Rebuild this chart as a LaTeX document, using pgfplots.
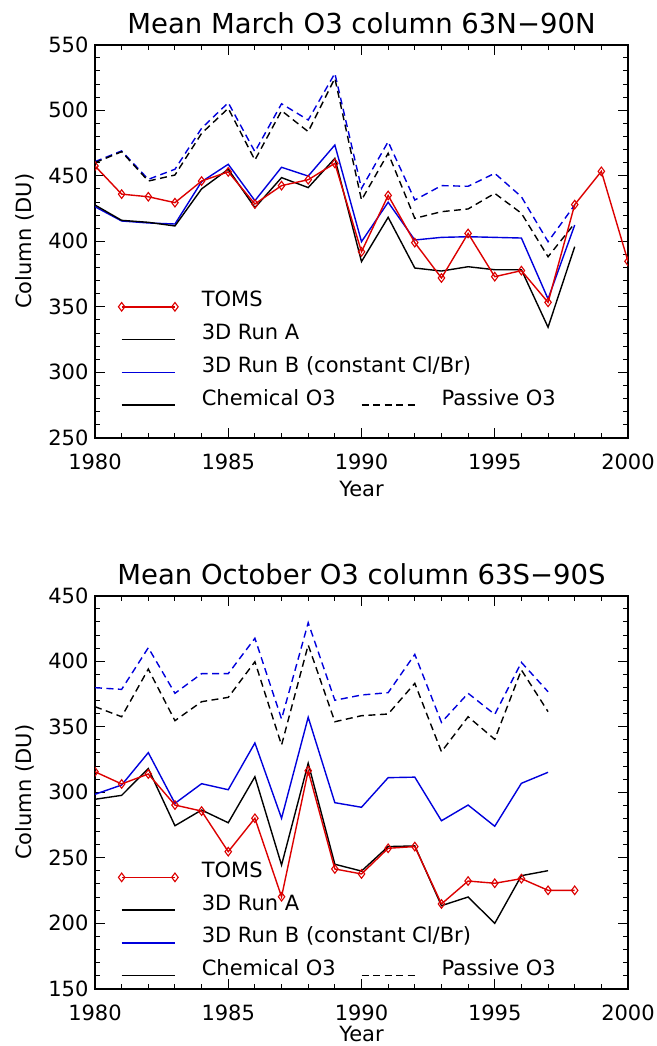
\documentclass[border=0pt]{standalone}
\usepackage{fontspec}
\setmainfont{DejaVu Sans}
\usepackage{pgfplots}
\usepackage{pgfplotstable}
\pgfplotsset{compat=1.18}
\definecolor{tred}{RGB}{220,0,0}
\definecolor{tblue}{RGB}{0,0,220}

\pgfplotstableread{
year toms runA runB passA passB
1980 457.5 427.7 426.4 460.0 460.8
1981 436.0 416.0 415.5 468.4 469.0
1982 434.0 414.5 414.0 446.0 447.3
1983 429.5 411.7 413.2 450.6 455.0
1984 446.0 440.0 445.5 482.4 486.3
1985 453.0 455.0 458.8 501.5 505.8
1986 428.5 425.7 431.0 462.0 468.4
1987 442.5 448.6 456.5 499.7 505.0
1988 447.0 441.0 449.8 483.7 492.6
1989 459.5 463.3 473.5 524.4 528.2
1990 392.0 384.5 399.7 431.5 440.4
1991 435.0 418.3 429.8 467.2 476.0
1992 399.0 379.6 401.0 417.5 431.5
1993 372.0 377.3 403.0 422.6 442.5
1994 406.0 380.6 403.5 424.7 442.0
1995 373.0 378.3 403.0 436.6 451.9
1996 377.6 378.3 402.5 421.4 434.0
1997 353.4 334.4 356.0 388.2 399.7
1998 428.0 395.9 412.4 413.7 427.7
1999 453.4 nan nan nan nan
2000 384.7 nan nan nan nan
}\topdata

\pgfplotstableread{
year toms runA runB passA passB
1980 315.6 294.6 298.4 365.3 379.8
1981 306.3 297.6 305.5 357.6 378.5
1982 313.9 318.0 330.2 394.0 410.3
1983 290.2 274.4 291.5 354.6 375.5
1984 285.6 286.4 306.5 369.1 390.5
1985 254.6 276.7 301.9 372.4 390.5
1986 280.1 311.8 337.6 399.6 417.5
1987 220.2 244.4 280.1 336.0 355.9
1988 316.4 322.1 357.2 412.4 429.4
1989 241.4 245.0 292.0 353.8 370.2
1990 237.6 239.8 288.5 358.4 374.2
1991 257.2 258.5 311.1 359.7 376.0
1992 258.5 259.0 311.5 383.1 405.2
1993 214.7 213.4 278.2 330.9 353.3
1994 232.2 220.0 290.2 357.6 375.5
1995 230.5 199.9 274.0 340.4 359.4
1996 234.0 236.3 306.8 393.3 399.1
1997 225.1 240.1 315.2 361.5 376.7
1998 225.1 nan nan nan nan
}\botdata

\pgfplotsset{
  myax/.style={
    scale only axis, width=533pt, height=393pt,
    xmin=1980, xmax=2000, xtick={1980,1985,...,2000},
    minor x tick num=4, minor y tick num=4,
    tick align=inside, major tick length=10pt, minor tick length=5pt,
    axis line style={line width=1.6pt, black},
    tick style={line width=1pt, black},
    /pgf/number format/1000 sep={},
    /pgf/number format/assume math mode=true,
    ticklabel style={font=\fontsize{21}{24}\selectfont},
    xticklabel style={anchor=base, yshift=-32pt},
    yticklabel style={xshift=-3pt},
    clip mode=individual,
    clip marker paths=true,
    unbounded coords=jump,
    every axis plot/.append style={line width=1.4pt},
  },
  dline/.style={dash pattern=on 7pt off 4.5pt},
  tomsmk/.style={tred, mark=diamond, mark size=4.3pt, mark options={solid, line width=1.1pt}},
}
\newcommand{\lf}{\fontsize{21}{24}\selectfont}
\newcommand{\tf}{\fontsize{27.5}{30}\selectfont}

\begin{document}
\begin{tikzpicture}
\path[use as bounding box] (0,0) rectangle (656pt,-1046pt);

\begin{axis}[myax, at={(95pt,-44.8pt)}, anchor=north west,
  ymin=250, ymax=550, ytick={250,300,...,550}]
\addplot[tblue, dline] table[x=year, y=passB] {\topdata};
\addplot[black, dline] table[x=year, y=passA] {\topdata};
\addplot[tblue] table[x=year, y=runB] {\topdata};
\addplot[black] table[x=year, y=runA] {\topdata};
\addplot[tomsmk] table[x=year, y=toms] {\topdata};
% legend
\addplot[tomsmk] coordinates {(1981,350) (1983,350)};
\addplot[black] coordinates {(1981,325) (1983,325)};
\addplot[tblue] coordinates {(1981,300) (1983,300)};
\addplot[black] coordinates {(1981,275) (1983,275)};
\addplot[black, dline] coordinates {(1990,275) (1992,275)};
\node[anchor=base west, inner sep=0, font=\lf] at (axis cs:1984,350) {TOMS};
\node[anchor=base west, inner sep=0, font=\lf] at (axis cs:1984,325) {3D Run A};
\node[anchor=base west, inner sep=0, font=\lf] at (axis cs:1984,300) {3D Run B (constant Cl/Br)};
\node[anchor=base west, inner sep=0, font=\lf] at (axis cs:1984,275) {Chemical O3};
\node[anchor=base west, inner sep=0, font=\lf] at (axis cs:1993,275) {Passive O3};
% labels
\node[anchor=base, inner sep=0, font=\tf, yshift=11pt] at (axis description cs:0.5,1) {Mean March O3 column 63N−90N};
\node[anchor=base, inner sep=0, font=\lf, yshift=-59pt] at (axis description cs:0.5,0) {Year};
\node[anchor=base, inner sep=0, font=\lf, xshift=-63.3pt, rotate=90] at (axis description cs:0,0.5) {Column (DU)};
\end{axis}

\begin{axis}[myax, at={(95pt,-595.7pt)}, anchor=north west,
  ymin=150, ymax=450, ytick={150,200,...,450}]
\addplot[tblue, dline] table[x=year, y=passB] {\botdata};
\addplot[black, dline] table[x=year, y=passA] {\botdata};
\addplot[tblue] table[x=year, y=runB] {\botdata};
\addplot[black] table[x=year, y=runA] {\botdata};
\addplot[tomsmk] table[x=year, y=toms] {\botdata};
% legend
\addplot[tomsmk] coordinates {(1981,235) (1983,235)};
\addplot[black] coordinates {(1981,210) (1983,210)};
\addplot[tblue] coordinates {(1981,185) (1983,185)};
\addplot[black] coordinates {(1981,160) (1983,160)};
\addplot[black, dline] coordinates {(1990,160) (1992,160)};
\node[anchor=base west, inner sep=0, font=\lf] at (axis cs:1984,235) {TOMS};
\node[anchor=base west, inner sep=0, font=\lf] at (axis cs:1984,210) {3D Run A};
\node[anchor=base west, inner sep=0, font=\lf] at (axis cs:1984,185) {3D Run B (constant Cl/Br)};
\node[anchor=base west, inner sep=0, font=\lf] at (axis cs:1984,160) {Chemical O3};
\node[anchor=base west, inner sep=0, font=\lf] at (axis cs:1993,160) {Passive O3};
% labels
\node[anchor=base, inner sep=0, font=\tf, yshift=11pt] at (axis description cs:0.5,1) {Mean October O3 column 63S−90S};
\node[anchor=base, inner sep=0, font=\lf, yshift=-53pt] at (axis description cs:0.5,0) {Year};
\node[anchor=base, inner sep=0, font=\lf, xshift=-63.3pt, rotate=90] at (axis description cs:0,0.5) {Column (DU)};
\end{axis}
\end{tikzpicture}
\end{document}
